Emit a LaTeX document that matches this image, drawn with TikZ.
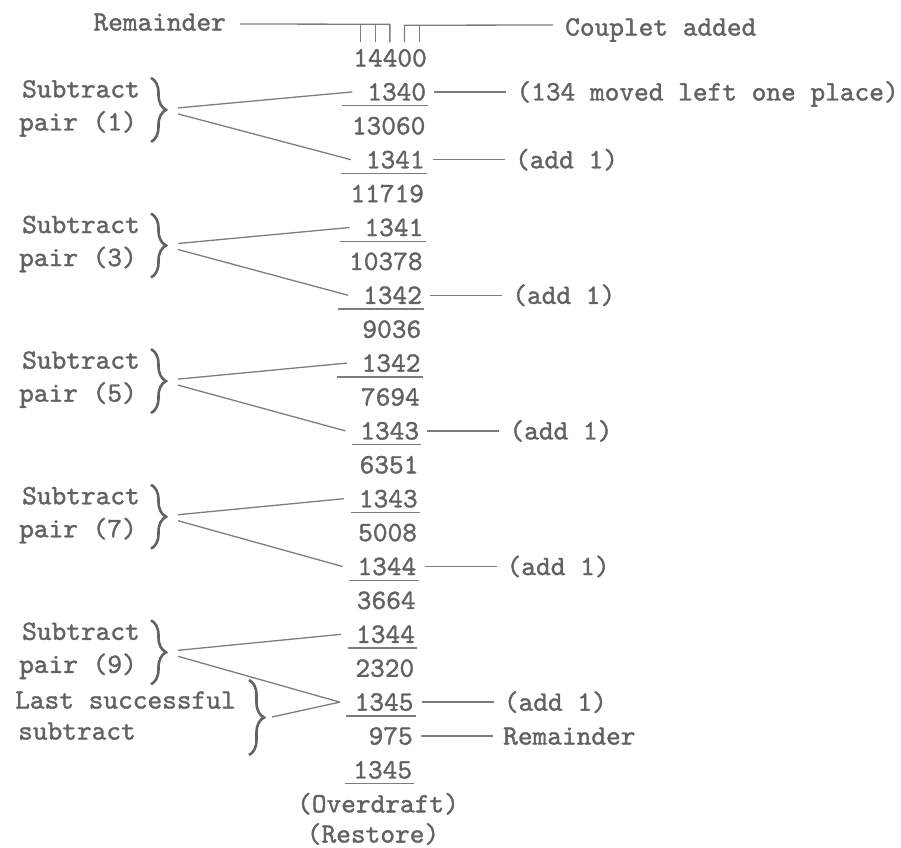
\documentclass[tikz,border=0pt]{standalone}
\usepackage{fontspec}
\newfontfamily\typw{lmmono10-regular}[Extension=.otf, FakeBold=1.3]
\usetikzlibrary{calc,decorations.pathreplacing}
\definecolor{ink}{RGB}{98,98,98}
\definecolor{rulec}{RGB}{125,125,125}
\begin{document}
\begin{tikzpicture}[x=1pt,y=-1pt,
  txt/.style={inner sep=0pt, text height=17.1pt, text depth=0pt, text=ink,
              font=\fontsize{28}{32}\selectfont\typw},
  num/.style={txt, anchor=east, text width=73.5pt, align=right},
  ln/.style={draw=rulec, line width=1.3pt},
  brc/.style={draw=ink, line width=2.6pt, decorate, decoration={brace, amplitude=15pt}},
]
\useasboundingbox (0,0) rectangle (901,847);

% number column
\foreach \i/\t in {0/14400,1/1340,2/13060,3/1341,4/11719,5/1341,6/10378,7/1342,8/9036,9/1342,10/7694,11/1343,12/6351,13/1343,14/5008,15/1344,16/3664,17/1344,18/2320,19/1345,20/975,21/1345}
  \node[num] (n\i) at ({427-0.7*\i},{58+33.9*\i}) {\t};

% underlines
\foreach \i in {1,3,5,7,9}
  \draw[ln] ($(n\i.south west)+(-10,5)$) -- ($(n\i.south east)+(2,5)$);
\foreach \i in {11,13,15,17,19,21}
  \draw[ln] ($(n\i.south west)+(6.5,5)$) -- ($(n\i.south east)+(2,5)$);

% bottom notes
\node[txt] (ov) at (378,{58+33.9*22}) {(Overdraft)};
\node[txt] (rs) at (373,834) {(Restore)};

% right labels
\foreach \i/\t in {1/{(134 moved left one place)},3/{(add 1)},7/{(add 1)},11/{(add 1)},15/{(add 1)},19/{(add 1)},20/{Remainder}} {
  \node[txt, anchor=west] (r\i) at ({427-0.7*\i+90},{58+33.9*\i}) {\t};
  \draw[ln, shorten <=8pt, shorten >=10pt] (n\i.east) -- (r\i.west);
}

% top brackets
\node[txt, anchor=east] (remT) at (226,22) {Remainder};
\node[txt, anchor=west] (coupT) at (565,27) {Couplet added};
\foreach \k in {1,...,5}
  \coordinate (d\k) at ($(n0.north west)+({14.7*(\k-0.5)},-7)$);
\draw[ln] ($(remT.east)+(14,2)$) -- ($(d3)+(0,-18)$) -- (d3);
\draw[ln] (d1) -- ++(0,-18);
\draw[ln] (d2) -- ++(0,-18);
\draw[ln] (d4) -- ++(0,-17) -- ($(coupT.west)+(-12,-2)$);
\draw[ln] (d5) -- ++(0,-17);

% left groups
\foreach \k/\p in {0/1,1/3,2/5,3/7,4/9} {
  \pgfmathtruncatemacro\a{1+4*\k}
  \pgfmathtruncatemacro\b{3+4*\k}
  \pgfmathsetmacro\ya{58+33.9*\a}
  \node[txt, anchor=east] (s\p) at (140,\ya-3) {Subtract};
  \node[txt, anchor=east] (p\p) at (137,\ya+30) {pair (\p)};
  \draw[brc] (151,\ya-14) -- (151,\ya+50);
  \coordinate (bu\p) at (178,\ya+16);
  \coordinate (bl\p) at (178,\ya+22);
  \draw[ln] (bu\p) -- (n\a.west);
  \draw[ln] (bl\p) -- (n\b.west);
}

% last successful subtract
\node[txt, anchor=west] (ls1) at (15,700) {Last successful};
\node[txt, anchor=west] (ls2) at (18,731) {subtract};
\draw[brc] (249,680) -- (249,755);
\coordinate (bls) at (272,717);
\draw[ln] (bls) -- (n19.west);
\end{tikzpicture}
\end{document}
